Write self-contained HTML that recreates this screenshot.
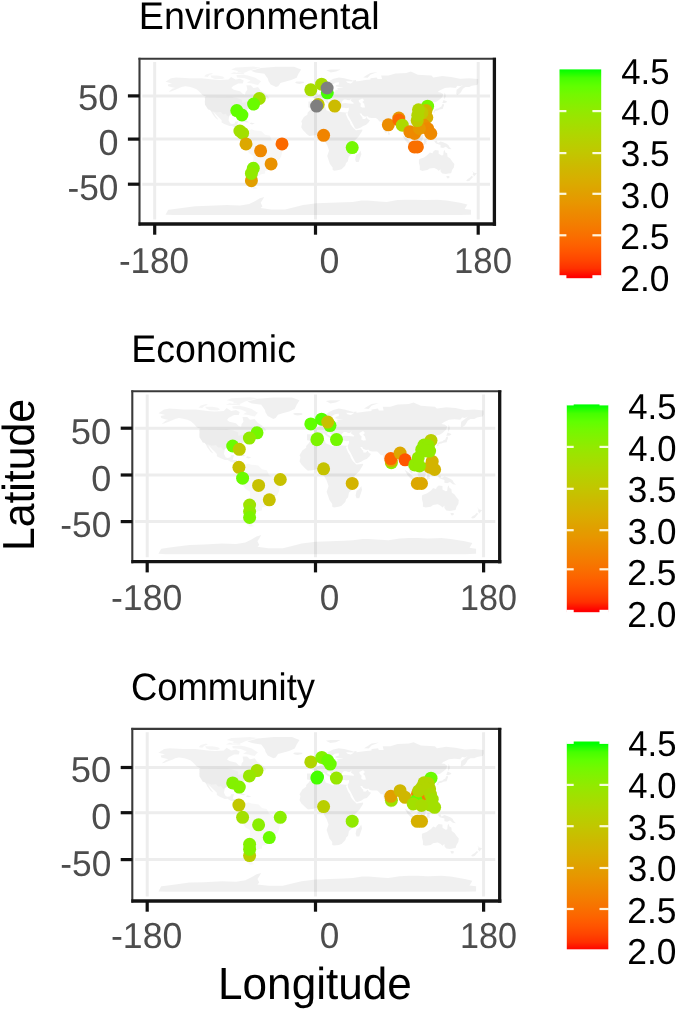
<!DOCTYPE html>
<html><head><meta charset="utf-8"><title>Latitude / Longitude maps</title>
<style>html,body{margin:0;padding:0;background:#fff}body{width:685px;height:1011px;overflow:hidden}</style>
</head><body>
<svg width="685" height="1011" viewBox="0 0 685 1011" style="display:block;text-rendering:geometricPrecision">
<rect x="0" y="0" width="685" height="1011" fill="#ffffff"/>
<defs><linearGradient id="cb" x1="0" y1="0" x2="0" y2="1"><stop offset="0.000" stop-color="#00ff00"/><stop offset="0.040" stop-color="#45ff00"/><stop offset="0.080" stop-color="#60ff00"/><stop offset="0.120" stop-color="#74f800"/><stop offset="0.160" stop-color="#83f100"/><stop offset="0.200" stop-color="#91ea00"/><stop offset="0.240" stop-color="#9de300"/><stop offset="0.280" stop-color="#a7dc00"/><stop offset="0.320" stop-color="#b1d500"/><stop offset="0.360" stop-color="#b9ce00"/><stop offset="0.400" stop-color="#c1c700"/><stop offset="0.440" stop-color="#c8bf00"/><stop offset="0.480" stop-color="#cfb700"/><stop offset="0.520" stop-color="#d6b000"/><stop offset="0.560" stop-color="#dca800"/><stop offset="0.600" stop-color="#e19f00"/><stop offset="0.640" stop-color="#e79700"/><stop offset="0.680" stop-color="#ec8d00"/><stop offset="0.720" stop-color="#f08400"/><stop offset="0.760" stop-color="#f57a00"/><stop offset="0.800" stop-color="#f96f00"/><stop offset="0.840" stop-color="#fd6300"/><stop offset="0.880" stop-color="#ff5500"/><stop offset="0.920" stop-color="#ff4500"/><stop offset="0.960" stop-color="#ff3000"/><stop offset="1.000" stop-color="#ff0000"/></linearGradient></defs>
<g id="panel1">
<clipPath id="clip0"><rect x="139.5" y="58.8" width="354.9" height="165.2"/></clipPath>
<g clip-path="url(#clip0)">
<line x1="154.7" y1="62.1" x2="154.7" y2="219.6" stroke="#ededed" stroke-width="3.0"/>
<line x1="315.5" y1="62.1" x2="315.5" y2="219.6" stroke="#ededed" stroke-width="3.0"/>
<line x1="478.2" y1="62.1" x2="478.2" y2="219.6" stroke="#ededed" stroke-width="3.0"/>
<line x1="142.3" y1="95.9" x2="490.0" y2="95.9" stroke="#ededed" stroke-width="3.0"/>
<line x1="142.3" y1="139.1" x2="490.0" y2="139.1" stroke="#ededed" stroke-width="3.0"/>
<line x1="142.3" y1="184.2" x2="490.0" y2="184.2" stroke="#ededed" stroke-width="3.0"/>
<path d="M165.5 81.8L170.9 78.2L176.3 77.4L189.7 78.2L201.4 78.2L213.1 79.6L219.4 80.0L228.4 79.6L231.1 76.9L235.6 79.6L240.1 78.7L243.7 80.4L242.8 83.5L238.3 83.5L232.9 86.2L231.5 88.1L233.8 89.7L240.1 91.2L242.8 93.7L245.0 94.6L245.5 91.9L247.3 89.7L246.4 85.3L250.9 85.3L253.5 88.0L258.0 87.1L260.7 90.6L266.1 94.1L262.5 95.9L257.1 95.9L258.0 97.7L261.6 99.4L258.5 100.8L257.1 100.8L253.5 101.6L253.5 103.4L250.0 104.3L248.2 106.9L248.2 109.1L246.4 110.0L243.7 112.7L244.6 116.2L244.3 117.8L242.8 116.7L241.9 114.0L239.2 113.3L235.6 114.3L232.0 114.0L229.3 115.8L228.6 120.2L230.2 123.3L232.0 124.0L234.7 123.4L235.3 121.5L238.3 121.2L237.4 124.2L236.9 125.9L241.0 126.1L241.7 128.6L241.3 130.5L243.2 132.1L245.0 131.7L246.9 132.5L246.4 133.6L244.6 133.6L241.9 132.8L239.6 131.2L237.8 128.6L234.7 127.7L232.0 125.9L229.3 126.1L224.8 124.2L221.6 122.4L221.6 120.2L219.4 118.0L217.6 116.2L215.4 114.0L213.4 112.1L215.4 115.8L217.6 118.6L218.0 119.7L215.8 118.3L213.7 115.8L212.2 113.6L211.1 111.4L210.0 110.0L208.1 109.5L206.8 107.4L205.0 104.7L204.8 102.1L205.0 99.0L204.6 97.4L205.9 96.8L202.3 95.0L199.6 91.9L196.5 89.3L193.3 88.0L190.2 87.1L185.3 86.2L181.7 87.1L179.4 88.1L175.4 89.7L170.9 91.5L168.6 91.8L172.7 88.6L175.1 88.0L170.9 87.1L168.2 86.2L167.7 84.4L171.8 83.5L169.1 82.7L165.5 81.8Z" fill="#000000" fill-opacity="0.05" fill-rule="evenodd"/>
<path d="M261.2 81.3L258.0 84.9L255.3 84.4L251.8 83.5L246.8 82.7L250.4 80.4L244.6 78.2L236.9 77.4L236.5 75.1L243.7 74.7L248.2 75.6L255.3 77.8L261.2 81.3ZM222.1 79.1L214.9 78.9L211.3 77.4L210.4 75.6L217.6 75.6L223.0 76.5L224.8 78.2L222.1 79.1ZM204.1 76.5L205.9 74.4L211.3 72.9L213.1 73.8L209.5 75.1L207.7 76.9L204.1 76.5ZM235.6 72.9L244.6 72.8L249.1 70.7L260.7 67.6L253.5 66.6L235.6 67.6L231.1 69.4L238.3 71.2L235.6 72.9ZM230.2 73.8L244.6 74.2L243.7 72.9L233.8 72.2L230.2 73.8ZM263.4 97.9L266.1 94.6L268.8 97.2L268.8 98.8L266.1 98.6L263.4 97.9Z" fill="#000000" fill-opacity="0.04" fill-rule="evenodd"/>
<path d="M240.1 120.6L244.6 119.7L249.5 122.2L246.8 122.5L241.0 120.9L240.1 120.6ZM249.6 123.7L250.9 122.5L254.9 123.6L252.2 124.4L249.6 123.7ZM276.0 87.1L270.6 84.4L268.4 80.9L267.9 78.7L264.3 73.8L255.3 72.5L250.9 70.7L260.7 68.1L276.0 66.8L294.0 66.8L301.2 69.4L298.5 73.8L296.7 77.8L291.3 80.0L285.0 81.8L280.5 83.1L278.3 86.2L276.0 87.1ZM294.9 82.2L296.7 83.5L299.4 84.0L303.9 83.1L303.9 81.8L300.3 81.5L296.7 81.5L294.9 82.2ZM311.1 108.4L315.6 108.9L320.0 107.4L325.4 107.1L326.3 110.2L329.9 111.5L333.5 113.1L334.4 111.4L338.9 111.8L343.4 112.2L345.7 112.5L347.5 112.5L345.7 113.7L347.9 118.9L349.7 121.5L350.6 124.2L352.4 126.8L355.1 129.5L356.0 130.3L362.3 129.5L362.3 130.8L358.7 136.5L354.2 140.9L352.4 143.6L351.5 146.2L352.4 149.8L352.8 153.3L348.8 156.8L347.9 161.2L346.1 163.0L345.2 165.7L341.6 169.2L338.9 170.1L334.4 170.8L332.6 170.1L332.6 167.4L329.9 163.9L327.2 155.9L329.0 150.6L327.2 145.3L324.5 140.9L325.0 137.4L323.6 136.1L320.9 134.8L317.3 134.8L313.8 135.6L309.3 136.1L306.6 133.9L304.8 132.1L303.0 130.3L301.2 127.2L302.1 123.3L301.2 121.5L303.9 117.1L307.5 114.4L307.5 112.7L310.2 110.0L311.1 108.4ZM360.5 150.6L361.4 154.2L358.7 162.1L356.0 162.1L355.1 159.5L356.0 155.1L358.7 153.3L360.5 150.6ZM308.4 107.4L311.1 107.8L314.7 107.4L316.4 105.6L316.4 104.3L319.1 103.0L320.0 101.6L322.7 101.6L324.5 100.8L326.3 102.5L328.1 103.8L330.8 105.6L330.8 106.5L331.7 104.7L333.1 104.7L330.8 103.4L328.1 101.6L327.7 100.3L328.6 99.7L329.9 100.3L331.7 102.1L334.0 103.4L335.3 105.6L336.2 107.4L337.1 106.5L338.0 104.3L339.8 104.3L340.7 107.4L341.6 107.8L344.3 107.8L346.1 108.3L348.8 107.8L348.8 110.0L347.9 111.8L347.5 112.5L347.7 114.0L347.9 115.3L350.1 118.9L351.5 121.5L353.3 125.0L355.1 128.6L356.9 129.0L360.5 127.7L363.2 125.9L365.9 125.0L368.6 122.4L369.9 120.2L367.7 118.9L366.8 117.1L365.0 118.9L362.7 118.9L362.3 117.1L361.4 116.2L359.6 113.6L361.4 113.6L362.3 115.3L365.0 116.7L367.7 116.2L368.6 117.5L371.3 118.0L375.8 118.0L377.6 119.3L379.4 121.5L381.6 121.5L382.0 125.0L383.4 128.6L384.7 132.1L386.1 133.0L387.4 131.2L388.3 128.6L388.3 126.4L390.1 125.0L392.8 122.4L394.6 121.1L396.4 120.6L398.2 120.2L399.1 122.4L400.9 125.9L401.8 125.9L403.6 125.0L404.5 128.6L405.0 132.1L406.3 134.3L407.2 137.4L409.5 138.7L409.9 137.8L409.0 135.2L407.2 134.3L406.3 132.1L406.3 128.6L408.1 129.5L410.8 132.1L412.6 130.8L414.4 129.5L414.4 126.8L412.6 125.0L411.7 123.3L413.5 121.1L415.3 121.5L415.3 122.1L418.9 120.2L421.6 119.3L423.4 117.5L425.2 115.3L426.1 113.1L425.2 111.8L423.4 109.1L425.2 107.8L426.5 107.4L423.4 106.9L422.5 105.6L425.6 104.3L426.1 105.6L428.8 104.7L428.8 106.9L430.1 109.6L432.4 108.7L432.4 107.4L431.0 105.2L433.3 102.5L436.0 102.1L438.7 100.3L442.3 97.2L443.2 94.1L440.5 92.4L437.8 91.9L439.6 90.6L445.0 88.0L450.3 87.5L455.7 88.0L457.5 85.7L460.2 86.2L462.9 84.9L460.2 87.1L456.6 89.7L456.2 94.1L457.3 95.0L460.2 93.3L462.0 90.6L462.9 88.8L465.6 87.1L469.2 87.1L471.9 85.7L477.3 84.9L478.2 82.7L478.2 79.1L469.2 78.2L460.2 78.7L451.2 76.9L442.3 76.0L433.3 77.4L431.5 75.6L418.0 74.7L410.8 71.6L406.3 72.9L395.5 73.4L388.3 75.6L381.1 75.6L382.0 79.1L377.6 79.1L376.7 77.4L370.4 78.2L370.4 79.6L365.0 80.0L359.6 80.9L356.0 81.3L356.0 80.0L352.4 80.4L353.3 81.8L350.6 83.5L347.5 82.7L346.1 81.3L352.4 81.6L353.3 80.6L346.1 78.7L344.3 78.2L338.9 77.4L333.5 78.7L329.0 80.9L326.3 83.5L320.9 85.3L320.9 88.0L323.6 88.8L326.3 88.0L327.7 90.6L329.0 91.0L330.8 90.2L333.1 87.1L331.7 86.2L332.6 84.4L335.3 82.7L338.9 82.2L338.9 84.4L335.8 85.3L335.8 86.6L338.9 87.1L343.4 87.1L341.6 87.5L337.1 88.0L338.0 89.7L335.3 89.7L335.3 91.5L333.5 91.9L329.0 92.4L326.3 92.4L325.0 91.5L325.9 89.3L323.6 89.7L323.6 91.5L324.1 92.4L321.8 92.8L320.0 94.1L318.2 95.0L315.1 96.3L315.1 97.0L312.4 97.2L314.7 98.5L315.6 99.4L315.1 101.6L312.9 101.6L308.4 101.6L308.4 107.4ZM312.0 95.9L317.8 94.8L317.8 93.4L316.4 92.8L314.7 90.6L314.7 89.1L312.9 88.4L311.1 88.8L312.0 90.6L313.8 92.4L312.4 93.0L312.9 94.1L312.0 94.4L312.0 95.9ZM311.1 94.1L311.1 91.9L309.3 91.2L307.5 92.4L307.5 94.1L311.1 94.1ZM326.3 70.3L330.8 69.4L340.7 69.4L336.2 71.6L330.8 72.4L326.3 70.3ZM363.2 77.4L366.8 75.1L370.4 72.9L377.6 72.1L370.4 74.7L367.7 77.8L363.2 77.4ZM433.3 112.7L434.2 110.0L436.0 108.7L438.7 108.3L439.6 107.4L441.4 106.5L442.3 104.3L443.6 103.8L444.1 105.2L443.2 107.4L442.7 109.1L439.6 109.6L437.8 110.5L435.1 110.9L434.6 112.7L433.3 112.7ZM442.3 103.0L443.6 99.9L446.7 101.2L447.2 102.1L445.0 103.0L442.3 103.0ZM444.1 99.4L444.1 95.9L444.5 92.4L445.4 94.1L445.7 96.8L444.1 99.4ZM424.3 120.2L425.6 118.0L426.1 118.9L425.2 120.6L424.3 120.2ZM424.3 127.7L424.7 123.7L426.5 124.2L426.1 125.9L427.9 128.6L426.1 128.1L424.3 127.7ZM426.1 133.9L428.8 131.7L430.1 133.9L429.2 134.8L426.1 133.9ZM414.4 138.7L416.6 137.8L418.0 137.4L419.8 135.6L421.6 133.9L423.4 135.6L422.5 139.2L421.1 143.6L418.9 143.1L416.2 142.7L415.3 140.9L414.4 138.7ZM402.3 135.2L404.5 136.5L406.8 138.3L409.5 140.9L411.7 142.7L411.7 145.3L409.9 144.9L407.2 142.7L405.0 140.1L402.3 135.2ZM411.3 145.8L413.9 145.8L416.2 145.8L419.3 146.7L419.3 147.7L413.5 146.9L411.3 145.8ZM423.8 144.9L423.4 142.7L424.3 139.6L427.9 139.0L428.8 138.7L427.0 139.8L425.2 140.9L427.0 140.9L426.1 142.7L427.0 144.5L425.2 143.6L424.7 144.9L423.8 144.9ZM434.2 140.9L436.9 140.8L437.8 143.0L440.5 141.6L443.2 142.3L446.7 143.8L448.5 145.3L449.4 147.1L451.7 149.3L448.5 148.9L445.9 146.8L443.2 148.0L440.5 147.4L440.5 144.9L436.0 143.6L435.1 142.5L434.2 140.9ZM388.3 131.4L390.1 133.9L389.2 134.8L388.3 134.8L388.1 133.0L388.3 131.4ZM418.9 159.5L418.9 163.0L419.8 166.5L419.8 170.1L422.5 171.0L427.4 170.1L429.7 168.6L434.2 167.9L436.9 169.2L438.7 171.0L440.5 169.2L440.5 171.4L442.3 173.6L445.9 174.0L448.5 173.6L451.2 173.2L452.1 170.1L453.9 167.4L454.4 163.9L452.1 161.2L450.3 158.6L447.6 156.8L447.2 153.3L445.4 152.4L444.5 149.8L443.6 151.5L443.2 155.1L441.8 155.5L438.7 153.7L438.7 150.6L435.1 150.0L433.3 151.5L432.4 153.3L429.7 152.4L427.9 154.6L426.1 155.9L423.4 157.7L420.7 158.6L418.9 159.5ZM446.3 176.1L449.4 176.1L449.4 178.0L447.6 178.5L446.7 177.6L446.3 176.1ZM471.6 170.5L474.2 172.7L476.9 173.3L475.5 174.9L473.7 176.7L473.5 174.9L472.6 174.8L473.3 172.7L471.6 170.5ZM471.6 175.8L473.1 176.9L471.6 178.5L469.7 180.7L467.9 181.3L466.1 180.7L467.4 179.2L469.7 177.8L471.6 175.8ZM165.5 214.7L168.2 209.8L174.5 208.9L181.7 208.0L195.1 206.3L208.6 205.8L226.6 205.0L240.1 205.4L249.1 204.1L255.3 201.0L259.8 198.3L264.3 197.0L262.5 200.1L260.7 202.7L262.5 206.3L260.7 208.0L271.5 209.4L285.0 209.4L294.0 207.2L303.0 205.0L316.4 203.2L329.9 202.7L343.4 202.3L352.4 201.9L361.4 200.5L367.7 200.5L379.4 201.4L386.5 201.9L397.3 200.1L406.3 199.7L415.3 199.7L424.3 200.1L437.8 199.7L446.7 200.5L460.2 202.7L467.4 204.5L464.7 208.9L471.0 209.8L471.0 214.7L460.2 215.1L172.7 215.1ZM341.6 103.4L342.1 101.2L343.9 99.4L346.1 99.4L347.9 100.3L349.7 100.3L351.5 98.5L350.6 100.8L353.7 103.0L353.3 103.8L348.8 103.4L345.2 103.0L341.6 103.4ZM358.7 100.3L362.3 98.5L364.1 100.3L362.3 102.1L364.1 103.8L365.0 107.4L362.3 107.6L360.5 106.5L360.9 103.8L359.1 102.1L358.7 100.3Z" fill="#000000" fill-opacity="0.058" fill-rule="evenodd"/>
<path d="M246.9 132.5L249.1 130.3L251.8 129.3L253.5 129.9L255.3 130.5L258.9 130.8L261.6 131.2L265.2 134.8L269.7 135.6L271.5 139.2L271.5 140.1L276.9 142.3L281.4 143.1L285.0 144.9L285.0 148.0L282.3 151.5L281.4 155.9L279.6 159.5L276.0 161.2L273.3 163.0L272.4 165.7L268.8 170.1L265.2 171.0L265.2 173.6L260.7 174.5L258.0 176.3L258.0 179.8L256.2 180.7L257.1 182.4L254.4 185.1L255.3 186.8L257.6 188.6L253.5 189.1L250.0 186.0L249.1 182.4L250.0 178.0L250.9 173.6L252.6 168.3L253.5 162.1L253.5 155.9L249.1 153.3L247.3 150.6L244.6 146.2L243.7 144.5L244.6 141.8L244.6 139.2L246.4 137.4L247.3 134.8L246.4 133.6L246.9 132.5Z" fill="#000000" fill-opacity="0.03" fill-rule="evenodd"/>
<path d="M204.6 97.2L231.1 96.8L236.5 97.7L240.5 99.0L242.3 100.1L242.3 103.0L245.5 102.1L247.7 101.2L249.1 100.3L252.2 100.3L253.5 98.5L255.5 98.5L256.2 100.3L253.5 101.6L253.5 103.4L250.0 104.3L248.2 106.9L248.2 109.1L246.4 110.0L243.7 112.7L244.6 116.2L244.3 117.8L242.8 116.7L241.9 114.0L239.2 113.3L235.6 114.3L232.0 114.0L229.3 115.8L229.1 117.1L227.0 115.8L225.7 113.7L223.9 114.4L222.5 113.9L220.7 112.0L216.7 112.4L213.4 111.4L211.1 111.4L210.0 110.0L208.1 109.5L206.8 107.4L205.0 104.7L204.8 102.1L205.0 99.0L204.6 97.2Z" fill="#000000" fill-opacity="0.025"/>
<circle cx="259.3" cy="98.5" r="6.5" fill="#a2e000"/>
<circle cx="253.6" cy="104.1" r="6.5" fill="#6afb00"/>
<circle cx="236.8" cy="110.6" r="6.5" fill="#60ff00"/>
<circle cx="241.9" cy="115.0" r="6.5" fill="#60ff00"/>
<circle cx="239.9" cy="131.0" r="6.5" fill="#a2e000"/>
<circle cx="242.6" cy="133.2" r="6.5" fill="#a2e000"/>
<circle cx="246.0" cy="143.9" r="6.5" fill="#dca800"/>
<circle cx="260.6" cy="150.8" r="6.5" fill="#ee8900"/>
<circle cx="282.0" cy="143.9" r="6.5" fill="#fb6900"/>
<circle cx="271.1" cy="163.9" r="6.5" fill="#e99200"/>
<circle cx="251.4" cy="180.7" r="6.5" fill="#e19f00"/>
<circle cx="253.3" cy="168.3" r="6.5" fill="#83f100"/>
<circle cx="251.4" cy="173.4" r="6.5" fill="#91ea00"/>
<circle cx="310.8" cy="89.8" r="6.5" fill="#a7dc00"/>
<circle cx="321.6" cy="84.2" r="6.5" fill="#a7dc00"/>
<circle cx="327.3" cy="92.8" r="6.5" fill="#45ff00"/>
<circle cx="318.2" cy="104.5" r="6.5" fill="#c1c700"/>
<circle cx="334.7" cy="106.1" r="6.5" fill="#ccbb00"/>
<circle cx="323.6" cy="135.3" r="6.5" fill="#f08400"/>
<circle cx="352.2" cy="147.6" r="6.5" fill="#74f800"/>
<circle cx="327.1" cy="88.0" r="6.5" fill="#7f7f7f"/>
<circle cx="316.6" cy="106.1" r="6.5" fill="#7f7f7f"/>
<circle cx="427.6" cy="106.2" r="6.5" fill="#74f800"/>
<circle cx="388.3" cy="124.8" r="6.5" fill="#ec8d00"/>
<circle cx="398.8" cy="118.0" r="6.5" fill="#e79700"/>
<circle cx="398.8" cy="119.9" r="6.5" fill="#fb6900"/>
<circle cx="402.3" cy="125.2" r="6.5" fill="#acd900"/>
<circle cx="426.0" cy="110.6" r="6.5" fill="#cfb700"/>
<circle cx="426.8" cy="117.5" r="6.5" fill="#d6b000"/>
<circle cx="409.8" cy="131.8" r="6.5" fill="#ee8900"/>
<circle cx="414.6" cy="133.5" r="6.5" fill="#ee8900"/>
<circle cx="423.8" cy="125.0" r="6.5" fill="#e99200"/>
<circle cx="427.7" cy="128.7" r="6.5" fill="#ee8900"/>
<circle cx="430.8" cy="133.5" r="6.5" fill="#ee8900"/>
<circle cx="419.4" cy="128.5" r="6.5" fill="#e79700"/>
<circle cx="422.0" cy="112.8" r="6.5" fill="#c1c700"/>
<circle cx="417.2" cy="120.6" r="6.5" fill="#bdca00"/>
<circle cx="417.8" cy="115.3" r="6.5" fill="#b1d500"/>
<circle cx="418.5" cy="109.8" r="6.5" fill="#b1d500"/>
<circle cx="414.4" cy="146.9" r="6.5" fill="#f96f00"/>
<circle cx="417.4" cy="146.9" r="6.5" fill="#f96f00"/>
</g>
<line x1="139.5" y1="57.8" x2="139.5" y2="225.6" stroke="#3a3a3a" stroke-width="2.1"/>
<line x1="138.5" y1="58.8" x2="496.0" y2="58.8" stroke="#3a3a3a" stroke-width="2.1"/>
<line x1="494.4" y1="57.8" x2="494.4" y2="225.65" stroke="#141414" stroke-width="3.3"/>
<line x1="138.5" y1="224.0" x2="496.04999999999995" y2="224.0" stroke="#141414" stroke-width="3.3"/>
<line x1="154.7" y1="224.0" x2="154.7" y2="234.7" stroke="#111111" stroke-width="3.2"/>
<line x1="315.5" y1="224.0" x2="315.5" y2="234.7" stroke="#111111" stroke-width="3.2"/>
<line x1="478.2" y1="224.0" x2="478.2" y2="234.7" stroke="#111111" stroke-width="3.2"/>
<line x1="127.9" y1="95.9" x2="139.5" y2="95.9" stroke="#111111" stroke-width="3.2"/>
<line x1="127.9" y1="139.1" x2="139.5" y2="139.1" stroke="#111111" stroke-width="3.2"/>
<line x1="127.9" y1="184.2" x2="139.5" y2="184.2" stroke="#111111" stroke-width="3.2"/>
</g>
<g id="panel2">
<clipPath id="clip1"><rect x="132.3" y="391.3" width="367.4" height="170.4"/></clipPath>
<g clip-path="url(#clip1)">
<line x1="147.2" y1="394.6" x2="147.2" y2="557.3" stroke="#ededed" stroke-width="3.0"/>
<line x1="315.5" y1="394.6" x2="315.5" y2="557.3" stroke="#ededed" stroke-width="3.0"/>
<line x1="483.6" y1="394.6" x2="483.6" y2="557.3" stroke="#ededed" stroke-width="3.0"/>
<line x1="135.1" y1="428.2" x2="495.3" y2="428.2" stroke="#ededed" stroke-width="3.0"/>
<line x1="135.1" y1="475.0" x2="495.3" y2="475.0" stroke="#ededed" stroke-width="3.0"/>
<line x1="135.1" y1="521.6" x2="495.3" y2="521.6" stroke="#ededed" stroke-width="3.0"/>
<path d="M158.4 413.3L164.0 409.5L169.6 408.6L183.6 409.5L195.8 409.5L207.9 410.9L214.5 411.4L223.8 410.9L226.6 408.1L231.3 410.9L236.0 410.0L239.7 411.9L238.8 415.1L234.1 415.1L228.5 417.9L227.1 420.0L229.4 421.7L236.0 423.2L238.8 425.9L241.1 426.8L241.6 424.0L243.4 421.7L242.5 417.0L247.2 417.0L250.0 419.8L254.7 418.9L257.5 422.6L263.1 426.3L259.3 428.2L253.7 428.2L254.7 430.1L258.4 431.9L255.1 433.3L253.7 433.3L250.0 434.3L250.0 436.1L246.3 437.1L244.4 439.9L244.4 442.2L242.5 443.1L239.7 445.9L240.6 449.7L240.4 451.4L238.8 450.1L237.8 447.3L235.0 446.6L231.3 447.6L227.6 447.3L224.8 449.2L224.0 453.9L225.7 457.2L227.6 457.9L230.4 457.3L231.0 455.3L234.1 455.0L233.2 458.1L232.7 460.0L236.9 460.1L237.7 462.8L237.3 464.8L239.2 466.5L241.1 466.0L243.1 466.9L242.5 468.1L240.6 468.1L237.8 467.2L235.5 465.6L233.6 462.8L230.4 461.8L227.6 460.0L224.8 460.1L220.1 458.1L216.8 456.2L216.8 453.9L214.5 451.5L212.6 449.7L210.3 447.3L208.2 445.3L210.3 449.2L212.6 452.2L213.0 453.4L210.7 451.9L208.6 449.2L207.0 446.9L205.9 444.5L204.7 443.1L202.7 442.6L201.4 440.3L199.5 437.5L199.3 434.7L199.5 431.5L199.1 429.8L200.5 429.1L196.7 427.3L193.9 424.0L190.7 421.2L187.4 419.8L184.1 418.9L179.0 417.9L175.2 418.9L172.9 420.0L168.7 421.7L164.0 423.5L161.7 423.9L165.9 420.4L168.4 419.9L164.0 418.9L161.2 417.9L160.7 416.1L165.0 415.1L162.2 414.2L158.4 413.3Z" fill="#000000" fill-opacity="0.05" fill-rule="evenodd"/>
<path d="M257.9 412.8L254.7 416.5L251.9 416.1L248.1 415.1L243.0 414.2L246.7 411.9L240.6 409.5L232.7 408.6L232.2 406.3L239.7 405.8L244.4 406.7L251.9 409.1L257.9 412.8ZM217.3 410.5L209.8 410.2L206.1 408.6L205.1 406.7L212.6 406.7L218.2 407.7L220.1 409.5L217.3 410.5ZM198.6 407.7L200.5 405.5L206.1 403.9L207.9 404.8L204.2 406.3L202.3 408.1L198.6 407.7ZM231.3 403.9L240.6 403.7L245.3 401.6L257.5 398.3L250.0 397.2L231.3 398.3L226.6 400.2L234.1 402.0L231.3 403.9ZM225.7 404.8L240.6 405.2L239.7 403.9L229.4 403.2L225.7 404.8ZM260.3 430.3L263.1 426.8L265.9 429.6L265.9 431.3L263.1 431.1L260.3 430.3Z" fill="#000000" fill-opacity="0.04" fill-rule="evenodd"/>
<path d="M236.0 454.4L240.6 453.4L245.8 456.0L243.0 456.3L236.9 454.6L236.0 454.4ZM245.9 457.6L247.2 456.3L251.4 457.5L248.6 458.4L245.9 457.6ZM273.3 418.9L267.7 416.1L265.4 412.3L264.9 410.0L261.2 404.8L251.9 403.4L247.2 401.6L257.5 398.8L273.3 397.4L292.0 397.4L299.5 400.2L296.7 404.8L294.8 409.1L289.2 411.4L282.7 413.3L278.0 414.7L275.7 417.9L273.3 418.9ZM293.0 413.7L294.8 415.1L297.6 415.6L302.3 414.7L302.3 413.3L298.6 413.0L294.8 413.0L293.0 413.7ZM309.8 441.5L314.5 441.9L319.1 440.3L324.7 440.1L325.7 443.3L329.4 444.7L333.2 446.4L334.1 444.5L338.8 445.0L343.4 445.5L345.8 445.8L347.6 445.8L345.9 447.1L348.1 452.5L350.0 455.3L350.9 458.1L352.8 460.9L355.6 463.7L356.5 464.6L363.1 463.7L363.1 465.1L359.3 471.2L354.6 475.8L352.8 478.6L351.8 481.4L352.8 485.2L353.2 488.9L349.0 492.6L348.1 497.3L346.2 499.2L345.3 502.0L341.6 505.7L338.8 506.7L334.1 507.4L332.2 506.7L332.2 503.9L329.4 500.1L326.6 491.7L328.5 486.1L326.6 480.5L323.8 475.8L324.3 472.1L322.9 470.7L320.1 469.3L316.3 469.3L312.6 470.2L307.9 470.7L305.1 468.4L303.3 466.5L301.4 464.6L299.5 461.4L300.4 457.2L299.5 455.3L302.3 450.6L306.1 447.8L306.1 445.9L308.9 443.1L309.8 441.5ZM361.2 486.1L362.1 489.8L359.3 498.2L356.5 498.2L355.6 495.4L356.5 490.8L359.3 488.9L361.2 486.1ZM307.0 440.3L309.8 440.8L313.5 440.3L315.4 438.5L315.4 437.1L318.2 435.7L319.1 434.3L321.9 434.3L323.8 433.3L325.7 435.2L327.5 436.6L330.4 438.5L330.4 439.4L331.3 437.5L332.7 437.5L330.4 436.1L327.5 434.3L327.1 432.9L328.0 432.2L329.4 432.9L331.3 434.7L333.6 436.1L335.0 438.5L336.0 440.3L336.9 439.4L337.8 437.1L339.7 437.1L340.6 440.3L341.6 440.8L344.4 440.8L346.2 441.3L349.0 440.8L349.0 443.1L348.1 445.0L347.6 445.8L347.9 447.3L348.1 448.7L350.4 452.5L351.8 455.3L353.7 459.0L355.6 462.8L357.4 463.2L361.2 461.8L364.0 460.0L366.8 459.0L369.6 456.2L371.0 453.9L368.7 452.5L367.7 450.6L365.9 452.5L363.5 452.5L363.1 450.6L362.1 449.7L360.3 446.9L362.1 446.9L363.1 448.7L365.9 450.1L368.7 449.7L369.6 451.1L372.4 451.5L377.1 451.5L378.9 453.0L380.8 455.3L383.1 455.3L383.6 459.0L385.0 462.8L386.4 466.5L387.8 467.4L389.2 465.6L390.2 462.8L390.2 460.4L392.0 459.0L394.8 456.2L396.7 454.8L398.6 454.4L400.4 453.9L401.4 456.2L403.2 460.0L404.2 460.0L406.0 459.0L407.0 462.8L407.4 466.5L408.8 468.8L409.8 472.1L412.1 473.5L412.6 472.6L411.6 469.8L409.8 468.8L408.8 466.5L408.8 462.8L410.7 463.7L413.5 466.5L415.4 465.1L417.3 463.7L417.3 460.9L415.4 459.0L414.5 457.2L416.3 454.8L418.2 455.3L418.2 455.9L421.9 453.9L424.7 453.0L426.6 451.1L428.5 448.7L429.4 446.4L428.5 445.0L426.6 442.2L428.5 440.8L429.9 440.3L426.6 439.9L425.7 438.5L428.9 437.1L429.4 438.5L432.2 437.5L432.2 439.9L433.6 442.7L435.9 441.7L435.9 440.3L434.5 438.0L436.9 435.2L439.7 434.7L442.5 432.9L446.2 429.6L447.2 426.3L444.4 424.5L441.5 424.0L443.4 422.6L449.0 419.8L454.6 419.3L460.2 419.8L462.1 417.5L464.9 417.9L467.7 416.5L464.9 418.9L461.2 421.7L460.7 426.3L461.8 427.3L464.9 425.4L466.8 422.6L467.7 420.7L470.5 418.9L474.3 418.9L477.1 417.5L482.7 416.5L483.6 414.2L483.6 410.5L474.3 409.5L464.9 410.0L455.6 408.1L446.2 407.2L436.9 408.6L435.0 406.7L421.0 405.8L413.5 402.5L408.8 403.9L397.6 404.4L390.2 406.7L382.7 406.7L383.6 410.5L378.9 410.5L378.0 408.6L371.5 409.5L371.5 410.9L365.9 411.4L360.3 412.3L356.5 412.8L356.5 411.4L352.8 411.9L353.7 413.3L350.9 415.1L347.6 414.2L346.2 412.8L352.8 413.1L353.7 412.0L346.2 410.0L344.4 409.5L338.8 408.6L333.2 410.0L328.5 412.3L325.7 415.1L320.1 417.0L320.1 419.8L322.9 420.7L325.7 419.8L327.1 422.6L328.5 423.1L330.4 422.1L332.7 418.9L331.3 417.9L332.2 416.1L335.0 414.2L338.8 413.7L338.8 416.1L335.5 417.0L335.5 418.4L338.8 418.9L343.4 418.9L341.6 419.3L336.9 419.8L337.8 421.7L335.0 421.7L335.0 423.5L333.2 424.0L328.5 424.5L325.7 424.5L324.3 423.5L325.2 421.2L322.9 421.7L322.9 423.5L323.3 424.5L321.0 424.9L319.1 426.3L317.3 427.3L314.0 428.7L314.0 429.4L311.2 429.6L313.5 431.0L314.5 431.9L314.0 434.3L311.7 434.3L307.0 434.3L307.0 440.3ZM310.7 428.2L316.8 427.1L316.8 425.6L315.4 424.9L313.5 422.6L313.5 421.0L311.7 420.3L309.8 420.7L310.7 422.6L312.6 424.5L311.2 425.1L311.7 426.3L310.7 426.6L310.7 428.2ZM309.8 426.3L309.8 424.0L307.9 423.2L306.1 424.5L306.1 426.3L309.8 426.3ZM325.7 401.1L330.4 400.2L340.6 400.2L336.0 402.5L330.4 403.4L325.7 401.1ZM364.0 408.6L367.7 406.3L371.5 403.9L378.9 403.0L371.5 405.8L368.7 409.1L364.0 408.6ZM436.9 445.9L437.8 443.1L439.7 441.7L442.5 441.3L443.4 440.3L445.3 439.4L446.2 437.1L447.6 436.6L448.1 438.0L447.2 440.3L446.7 442.2L443.4 442.7L441.5 443.6L438.7 444.1L438.3 445.9L436.9 445.9ZM446.2 435.7L447.6 432.4L450.9 433.8L451.4 434.7L449.0 435.7L446.2 435.7ZM448.1 431.9L448.1 428.2L448.6 424.5L449.5 426.3L449.8 429.1L448.1 431.9ZM427.5 453.9L428.9 451.5L429.4 452.5L428.5 454.4L427.5 453.9ZM427.5 461.8L428.0 457.6L429.9 458.1L429.4 460.0L431.3 462.8L429.4 462.3L427.5 461.8ZM429.4 468.4L432.2 466.0L433.6 468.4L432.7 469.3L429.4 468.4ZM417.3 473.5L419.6 472.6L421.0 472.1L422.9 470.2L424.7 468.4L426.6 470.2L425.7 474.0L424.3 478.6L421.9 478.2L419.1 477.7L418.2 475.8L417.3 473.5ZM404.6 469.8L407.0 471.2L409.3 473.0L412.1 475.8L414.5 477.7L414.5 480.5L412.6 480.0L409.8 477.7L407.4 474.9L404.6 469.8ZM414.0 481.0L416.8 481.0L419.1 481.0L422.4 481.9L422.4 483.0L416.3 482.2L414.0 481.0ZM427.1 480.0L426.6 477.7L427.5 474.4L431.3 473.8L432.2 473.5L430.3 474.6L428.5 475.8L430.3 475.8L429.4 477.7L430.3 479.6L428.5 478.6L428.0 480.0L427.1 480.0ZM437.8 475.8L440.6 475.6L441.5 478.0L444.4 476.5L447.2 477.3L450.9 478.9L452.8 480.5L453.7 482.4L456.0 484.7L452.8 484.2L450.0 482.1L447.2 483.3L444.4 482.7L444.4 480.0L439.7 478.6L438.7 477.5L437.8 475.8ZM390.2 465.7L392.0 468.4L391.1 469.3L390.2 469.3L389.9 467.4L390.2 465.7ZM421.9 495.4L421.9 499.2L422.9 502.9L422.9 506.7L425.7 507.6L430.8 506.7L433.1 505.1L437.8 504.3L440.6 505.7L442.5 507.6L444.4 505.7L444.4 508.1L446.2 510.4L450.0 510.9L452.8 510.4L455.6 509.9L456.5 506.7L458.4 503.9L458.8 500.1L456.5 497.3L454.6 494.5L451.8 492.6L451.4 488.9L449.5 488.0L448.6 485.2L447.6 487.0L447.2 490.8L445.8 491.2L442.5 489.4L442.5 486.1L438.7 485.5L436.9 487.0L435.9 488.9L433.1 488.0L431.3 490.3L429.4 491.7L426.6 493.6L423.8 494.5L421.9 495.4ZM450.4 513.0L453.7 513.0L453.7 515.1L451.8 515.6L450.9 514.6L450.4 513.0ZM476.8 507.1L479.4 509.5L482.2 510.1L480.8 511.8L478.9 513.7L478.7 511.8L477.8 511.6L478.6 509.5L476.8 507.1ZM476.8 512.7L478.3 513.8L476.8 515.5L474.7 517.9L472.9 518.5L471.0 517.9L472.4 516.3L474.7 514.9L476.8 512.7ZM158.4 553.8L161.2 548.7L167.8 547.8L175.2 546.8L189.2 545.0L203.3 544.5L222.0 543.5L236.0 544.0L245.3 542.6L251.9 539.3L256.5 536.5L261.2 535.1L259.3 538.4L257.5 541.2L259.3 545.0L257.5 546.8L268.7 548.2L282.7 548.2L292.0 545.9L301.4 543.5L315.4 541.7L329.4 541.2L343.4 540.7L352.8 540.3L362.1 538.9L368.7 538.9L380.8 539.8L388.3 540.3L399.5 538.4L408.8 537.9L418.2 537.9L427.5 538.4L441.5 537.9L450.9 538.9L464.9 541.2L472.4 543.1L469.6 547.8L476.1 548.7L476.1 553.8L464.9 554.3L165.9 554.3ZM341.6 436.1L342.0 433.8L343.9 431.9L346.2 431.9L348.1 432.9L350.0 432.9L351.8 431.0L350.9 433.3L354.2 435.7L353.7 436.6L349.0 436.1L345.3 435.7L341.6 436.1ZM359.3 432.9L363.1 431.0L364.9 432.9L363.1 434.7L364.9 436.6L365.9 440.3L363.1 440.6L361.2 439.4L361.7 436.6L359.8 434.7L359.3 432.9Z" fill="#000000" fill-opacity="0.058" fill-rule="evenodd"/>
<path d="M243.1 466.9L245.3 464.6L248.1 463.5L250.0 464.2L251.9 464.8L255.6 465.1L258.4 465.6L262.1 469.3L266.8 470.2L268.7 474.0L268.7 474.9L274.3 477.2L279.0 478.2L282.7 480.0L282.7 483.3L279.9 487.0L279.0 491.7L277.1 495.4L273.3 497.3L270.5 499.2L269.6 502.0L265.9 506.7L262.1 507.6L262.1 510.4L257.5 511.3L254.7 513.2L254.7 516.9L252.8 517.9L253.7 519.7L250.9 522.5L251.9 524.4L254.2 526.3L250.0 526.7L246.3 523.5L245.3 519.7L246.3 515.1L247.2 510.4L249.1 504.8L250.0 498.2L250.0 491.7L245.3 488.9L243.4 486.1L240.6 481.4L239.7 479.6L240.6 476.8L240.6 474.0L242.5 472.1L243.4 469.3L242.5 468.1L243.1 466.9Z" fill="#000000" fill-opacity="0.03" fill-rule="evenodd"/>
<path d="M199.1 429.6L226.6 429.1L232.2 430.1L236.4 431.5L238.3 432.6L238.3 435.7L241.6 434.7L243.9 433.8L245.3 432.9L248.6 432.9L250.0 431.0L252.0 431.0L252.8 432.9L250.0 434.3L250.0 436.1L246.3 437.1L244.4 439.9L244.4 442.2L242.5 443.1L239.7 445.9L240.6 449.7L240.4 451.4L238.8 450.1L237.8 447.3L235.0 446.6L231.3 447.6L227.6 447.3L224.8 449.2L224.6 450.6L222.4 449.2L221.0 447.1L219.2 447.8L217.8 447.3L215.9 445.2L211.7 445.7L208.2 444.5L205.9 444.5L204.7 443.1L202.7 442.6L201.4 440.3L199.5 437.5L199.3 434.7L199.5 431.5L199.1 429.6Z" fill="#000000" fill-opacity="0.025"/>
<circle cx="257.0" cy="432.8" r="6.5" fill="#74f800"/>
<circle cx="249.4" cy="438.1" r="6.5" fill="#91ea00"/>
<circle cx="232.7" cy="446.0" r="6.5" fill="#6afb00"/>
<circle cx="239.3" cy="449.3" r="6.5" fill="#bdca00"/>
<circle cx="238.9" cy="467.3" r="6.5" fill="#c8bf00"/>
<circle cx="242.6" cy="478.2" r="6.5" fill="#6afb00"/>
<circle cx="258.6" cy="485.4" r="6.5" fill="#c7c100"/>
<circle cx="280.3" cy="479.5" r="6.5" fill="#c7c100"/>
<circle cx="269.3" cy="499.8" r="6.5" fill="#c7c100"/>
<circle cx="249.6" cy="505.1" r="6.5" fill="#9de300"/>
<circle cx="249.6" cy="511.5" r="6.5" fill="#91ea00"/>
<circle cx="249.6" cy="517.5" r="6.5" fill="#7cf400"/>
<circle cx="310.8" cy="423.9" r="6.5" fill="#60ff00"/>
<circle cx="321.6" cy="419.2" r="6.5" fill="#54ff00"/>
<circle cx="330.0" cy="425.6" r="6.5" fill="#60ff00"/>
<circle cx="327.7" cy="422.1" r="6.5" fill="#c8bf00"/>
<circle cx="317.5" cy="438.7" r="6.5" fill="#7cf400"/>
<circle cx="316.9" cy="439.7" r="6.5" fill="#7cf400"/>
<circle cx="336.5" cy="439.6" r="6.5" fill="#74f800"/>
<circle cx="323.6" cy="468.8" r="6.5" fill="#c5c300"/>
<circle cx="352.2" cy="483.4" r="6.5" fill="#d3b400"/>
<circle cx="391.4" cy="462.7" r="6.5" fill="#91ea00"/>
<circle cx="391.1" cy="460.6" r="6.5" fill="#dca800"/>
<circle cx="390.8" cy="458.6" r="6.5" fill="#fd6300"/>
<circle cx="400.1" cy="453.1" r="6.5" fill="#dca800"/>
<circle cx="405.1" cy="459.8" r="6.5" fill="#ff5500"/>
<circle cx="431.0" cy="440.4" r="6.5" fill="#b9ce00"/>
<circle cx="432.2" cy="461.4" r="6.5" fill="#d3b400"/>
<circle cx="434.6" cy="469.5" r="6.5" fill="#d3b400"/>
<circle cx="429.9" cy="467.2" r="6.5" fill="#d3b400"/>
<circle cx="424.0" cy="445.0" r="6.5" fill="#91ea00"/>
<circle cx="428.3" cy="445.8" r="6.5" fill="#91ea00"/>
<circle cx="429.6" cy="451.1" r="6.5" fill="#91ea00"/>
<circle cx="421.7" cy="449.7" r="6.5" fill="#91ea00"/>
<circle cx="426.4" cy="450.9" r="6.5" fill="#91ea00"/>
<circle cx="418.2" cy="457.9" r="6.5" fill="#91ea00"/>
<circle cx="414.7" cy="464.9" r="6.5" fill="#91ea00"/>
<circle cx="419.4" cy="466.0" r="6.5" fill="#91ea00"/>
<circle cx="417.3" cy="483.5" r="6.5" fill="#dca800"/>
<circle cx="421.5" cy="483.5" r="6.5" fill="#dca800"/>
</g>
<line x1="132.3" y1="390.3" x2="132.3" y2="563.3000000000001" stroke="#3a3a3a" stroke-width="2.1"/>
<line x1="131.3" y1="391.3" x2="501.3" y2="391.3" stroke="#3a3a3a" stroke-width="2.1"/>
<line x1="499.7" y1="390.3" x2="499.7" y2="563.35" stroke="#141414" stroke-width="3.3"/>
<line x1="131.3" y1="561.7" x2="501.34999999999997" y2="561.7" stroke="#141414" stroke-width="3.3"/>
<line x1="147.2" y1="561.7" x2="147.2" y2="572.4000000000001" stroke="#111111" stroke-width="3.2"/>
<line x1="315.5" y1="561.7" x2="315.5" y2="572.4000000000001" stroke="#111111" stroke-width="3.2"/>
<line x1="483.6" y1="561.7" x2="483.6" y2="572.4000000000001" stroke="#111111" stroke-width="3.2"/>
<line x1="120.70000000000002" y1="428.2" x2="132.3" y2="428.2" stroke="#111111" stroke-width="3.2"/>
<line x1="120.70000000000002" y1="475.0" x2="132.3" y2="475.0" stroke="#111111" stroke-width="3.2"/>
<line x1="120.70000000000002" y1="521.6" x2="132.3" y2="521.6" stroke="#111111" stroke-width="3.2"/>
</g>
<g id="panel3">
<clipPath id="clip2"><rect x="132.3" y="728.9" width="367.4" height="172.1"/></clipPath>
<g clip-path="url(#clip2)">
<line x1="147.2" y1="732.2" x2="147.2" y2="896.6" stroke="#ededed" stroke-width="3.0"/>
<line x1="315.5" y1="732.2" x2="315.5" y2="896.6" stroke="#ededed" stroke-width="3.0"/>
<line x1="483.6" y1="732.2" x2="483.6" y2="896.6" stroke="#ededed" stroke-width="3.0"/>
<line x1="135.1" y1="767.5" x2="495.3" y2="767.5" stroke="#ededed" stroke-width="3.0"/>
<line x1="135.1" y1="812.7" x2="495.3" y2="812.7" stroke="#ededed" stroke-width="3.0"/>
<line x1="135.1" y1="859.6" x2="495.3" y2="859.6" stroke="#ededed" stroke-width="3.0"/>
<path d="M158.4 752.8L164.0 749.1L169.6 748.2L183.6 749.1L195.8 749.1L207.9 750.5L214.5 750.9L223.8 750.5L226.6 747.7L231.3 750.5L236.0 749.5L239.7 751.4L238.8 754.6L234.1 754.6L228.5 757.4L227.1 759.4L229.4 761.1L236.0 762.6L238.8 765.2L241.1 766.1L241.6 763.4L243.4 761.1L242.5 756.4L247.2 756.4L250.0 759.2L254.7 758.3L257.5 762.0L263.1 765.7L259.3 767.5L253.7 767.5L254.7 769.3L258.4 771.2L255.1 772.6L253.7 772.6L250.0 773.5L250.0 775.3L246.3 776.2L244.4 779.0L244.4 781.3L242.5 782.2L239.7 785.0L240.6 788.7L240.4 790.3L238.8 789.1L237.8 786.4L235.0 785.6L231.3 786.7L227.6 786.4L224.8 788.2L224.0 792.8L225.7 796.1L227.6 796.8L230.4 796.2L231.0 794.2L234.1 793.9L233.2 797.0L232.7 798.8L236.9 799.0L237.7 801.6L237.3 803.6L239.2 805.3L241.1 804.8L243.1 805.6L242.5 806.8L240.6 806.8L237.8 806.0L235.5 804.3L233.6 801.6L230.4 800.7L227.6 798.8L224.8 799.0L220.1 797.0L216.8 795.1L216.8 792.8L214.5 790.5L212.6 788.7L210.3 786.4L208.2 784.4L210.3 788.2L212.6 791.2L213.0 792.4L210.7 790.9L208.6 788.2L207.0 785.9L205.9 783.6L204.7 782.2L202.7 781.7L201.4 779.5L199.5 776.7L199.3 773.9L199.5 770.7L199.1 769.1L200.5 768.4L196.7 766.6L193.9 763.4L190.7 760.6L187.4 759.2L184.1 758.3L179.0 757.4L175.2 758.3L172.9 759.4L168.7 761.1L164.0 762.9L161.7 763.3L165.9 759.9L168.4 759.3L164.0 758.3L161.2 757.4L160.7 755.5L165.0 754.6L162.2 753.7L158.4 752.8Z" fill="#000000" fill-opacity="0.05" fill-rule="evenodd"/>
<path d="M257.9 752.3L254.7 756.0L251.9 755.5L248.1 754.6L243.0 753.7L246.7 751.4L240.6 749.1L232.7 748.2L232.2 745.9L239.7 745.4L244.4 746.3L251.9 748.6L257.9 752.3ZM217.3 750.0L209.8 749.7L206.1 748.2L205.1 746.3L212.6 746.3L218.2 747.2L220.1 749.1L217.3 750.0ZM198.6 747.2L200.5 745.1L206.1 743.6L207.9 744.5L204.2 745.9L202.3 747.7L198.6 747.2ZM231.3 743.6L240.6 743.4L245.3 741.3L257.5 738.0L250.0 736.9L231.3 738.0L226.6 739.9L234.1 741.7L231.3 743.6ZM225.7 744.5L240.6 744.8L239.7 743.6L229.4 742.8L225.7 744.5ZM260.3 769.6L263.1 766.1L265.9 768.9L265.9 770.5L263.1 770.4L260.3 769.6Z" fill="#000000" fill-opacity="0.04" fill-rule="evenodd"/>
<path d="M236.0 793.3L240.6 792.4L245.8 794.9L243.0 795.2L236.9 793.6L236.0 793.3ZM245.9 796.5L247.2 795.2L251.4 796.4L248.6 797.2L245.9 796.5ZM273.3 758.3L267.7 755.5L265.4 751.8L264.9 749.5L261.2 744.5L251.9 743.1L247.2 741.3L257.5 738.5L273.3 737.1L292.0 737.1L299.5 739.9L296.7 744.5L294.8 748.6L289.2 750.9L282.7 752.8L278.0 754.1L275.7 757.4L273.3 758.3ZM293.0 753.2L294.8 754.6L297.6 755.1L302.3 754.1L302.3 752.8L298.6 752.5L294.8 752.5L293.0 753.2ZM309.8 780.6L314.5 781.0L319.1 779.5L324.7 779.2L325.7 782.4L329.4 783.8L333.2 785.5L334.1 783.6L338.8 784.1L343.4 784.5L345.8 784.8L347.6 784.8L345.9 786.1L348.1 791.4L350.0 794.2L350.9 797.0L352.8 799.7L355.6 802.5L356.5 803.4L363.1 802.5L363.1 803.9L359.3 809.9L354.6 814.5L352.8 817.2L351.8 820.0L352.8 823.7L353.2 827.4L349.0 831.0L348.1 835.7L346.2 837.5L345.3 840.3L341.6 843.9L338.8 844.9L334.1 845.6L332.2 844.9L332.2 842.1L329.4 838.4L326.6 830.1L328.5 824.6L326.6 819.1L323.8 814.5L324.3 810.8L322.9 809.4L320.1 808.0L316.3 808.0L312.6 808.9L307.9 809.4L305.1 807.1L303.3 805.3L301.4 803.4L299.5 800.2L300.4 796.1L299.5 794.2L302.3 789.6L306.1 786.8L306.1 785.0L308.9 782.2L309.8 780.6ZM361.2 824.6L362.1 828.3L359.3 836.6L356.5 836.6L355.6 833.8L356.5 829.2L359.3 827.4L361.2 824.6ZM307.0 779.5L309.8 779.9L313.5 779.5L315.4 777.6L315.4 776.2L318.2 774.9L319.1 773.5L321.9 773.5L323.8 772.6L325.7 774.4L327.5 775.8L330.4 777.6L330.4 778.6L331.3 776.7L332.7 776.7L330.4 775.3L327.5 773.5L327.1 772.1L328.0 771.5L329.4 772.1L331.3 773.9L333.6 775.3L335.0 777.6L336.0 779.5L336.9 778.6L337.8 776.2L339.7 776.2L340.6 779.5L341.6 779.9L344.4 779.9L346.2 780.4L349.0 779.9L349.0 782.2L348.1 784.1L347.6 784.8L347.9 786.4L348.1 787.8L350.4 791.4L351.8 794.2L353.7 797.9L355.6 801.6L357.4 802.0L361.2 800.7L364.0 798.8L366.8 797.9L369.6 795.1L371.0 792.8L368.7 791.4L367.7 789.6L365.9 791.4L363.5 791.4L363.1 789.6L362.1 788.7L360.3 785.9L362.1 785.9L363.1 787.8L365.9 789.1L368.7 788.7L369.6 790.1L372.4 790.5L377.1 790.5L378.9 791.9L380.8 794.2L383.1 794.2L383.6 797.9L385.0 801.6L386.4 805.3L387.8 806.2L389.2 804.3L390.2 801.6L390.2 799.3L392.0 797.9L394.8 795.1L396.7 793.7L398.6 793.3L400.4 792.8L401.4 795.1L403.2 798.8L404.2 798.8L406.0 797.9L407.0 801.6L407.4 805.3L408.8 807.6L409.8 810.8L412.1 812.2L412.6 811.2L411.6 808.5L409.8 807.6L408.8 805.3L408.8 801.6L410.7 802.5L413.5 805.3L415.4 803.9L417.3 802.5L417.3 799.7L415.4 797.9L414.5 796.1L416.3 793.7L418.2 794.2L418.2 794.9L421.9 792.8L424.7 791.9L426.6 790.1L428.5 787.8L429.4 785.5L428.5 784.1L426.6 781.3L428.5 779.9L429.9 779.5L426.6 779.0L425.7 777.6L428.9 776.2L429.4 777.6L432.2 776.7L432.2 779.0L433.6 781.8L435.9 780.9L435.9 779.5L434.5 777.2L436.9 774.4L439.7 773.9L442.5 772.1L446.2 768.9L447.2 765.7L444.4 763.8L441.5 763.4L443.4 762.0L449.0 759.2L454.6 758.8L460.2 759.2L462.1 756.9L464.9 757.4L467.7 756.0L464.9 758.3L461.2 761.1L460.7 765.7L461.8 766.6L464.9 764.7L466.8 762.0L467.7 760.1L470.5 758.3L474.3 758.3L477.1 756.9L482.7 756.0L483.6 753.7L483.6 750.0L474.3 749.1L464.9 749.5L455.6 747.7L446.2 746.8L436.9 748.2L435.0 746.3L421.0 745.4L413.5 742.2L408.8 743.6L397.6 744.0L390.2 746.3L382.7 746.3L383.6 750.0L378.9 750.0L378.0 748.2L371.5 749.1L371.5 750.5L365.9 750.9L360.3 751.8L356.5 752.3L356.5 750.9L352.8 751.4L353.7 752.8L350.9 754.6L347.6 753.7L346.2 752.3L352.8 752.6L353.7 751.6L346.2 749.5L344.4 749.1L338.8 748.2L333.2 749.5L328.5 751.8L325.7 754.6L320.1 756.4L320.1 759.2L322.9 760.1L325.7 759.2L327.1 762.0L328.5 762.4L330.4 761.5L332.7 758.3L331.3 757.4L332.2 755.5L335.0 753.7L338.8 753.2L338.8 755.5L335.5 756.4L335.5 757.8L338.8 758.3L343.4 758.3L341.6 758.8L336.9 759.2L337.8 761.1L335.0 761.1L335.0 762.9L333.2 763.4L328.5 763.8L325.7 763.8L324.3 762.9L325.2 760.6L322.9 761.1L322.9 762.9L323.3 763.8L321.0 764.3L319.1 765.7L317.3 766.6L314.0 768.0L314.0 768.7L311.2 768.9L313.5 770.3L314.5 771.2L314.0 773.5L311.7 773.5L307.0 773.5L307.0 779.5ZM310.7 767.5L316.8 766.4L316.8 764.9L315.4 764.3L313.5 762.0L313.5 760.4L311.7 759.7L309.8 760.1L310.7 762.0L312.6 763.8L311.2 764.5L311.7 765.7L310.7 765.9L310.7 767.5ZM309.8 765.7L309.8 763.4L307.9 762.6L306.1 763.8L306.1 765.7L309.8 765.7ZM325.7 740.8L330.4 739.9L340.6 739.9L336.0 742.2L330.4 743.0L325.7 740.8ZM364.0 748.2L367.7 745.9L371.5 743.6L378.9 742.6L371.5 745.4L368.7 748.6L364.0 748.2ZM436.9 785.0L437.8 782.2L439.7 780.9L442.5 780.4L443.4 779.5L445.3 778.6L446.2 776.2L447.6 775.8L448.1 777.2L447.2 779.5L446.7 781.3L443.4 781.8L441.5 782.7L438.7 783.2L438.3 785.0L436.9 785.0ZM446.2 774.9L447.6 771.6L450.9 773.0L451.4 773.9L449.0 774.9L446.2 774.9ZM448.1 771.2L448.1 767.5L448.6 763.8L449.5 765.7L449.8 768.4L448.1 771.2ZM427.5 792.8L428.9 790.5L429.4 791.4L428.5 793.3L427.5 792.8ZM427.5 800.7L428.0 796.5L429.9 797.0L429.4 798.8L431.3 801.6L429.4 801.1L427.5 800.7ZM429.4 807.1L432.2 804.8L433.6 807.1L432.7 808.0L429.4 807.1ZM417.3 812.2L419.6 811.2L421.0 810.8L422.9 808.9L424.7 807.1L426.6 808.9L425.7 812.6L424.3 817.2L421.9 816.8L419.1 816.3L418.2 814.5L417.3 812.2ZM404.6 808.5L407.0 809.9L409.3 811.7L412.1 814.5L414.5 816.3L414.5 819.1L412.6 818.6L409.8 816.3L407.4 813.5L404.6 808.5ZM414.0 819.5L416.8 819.5L419.1 819.5L422.4 820.5L422.4 821.6L416.3 820.7L414.0 819.5ZM427.1 818.6L426.6 816.3L427.5 813.1L431.3 812.4L432.2 812.2L430.3 813.3L428.5 814.5L430.3 814.5L429.4 816.3L430.3 818.2L428.5 817.2L428.0 818.6L427.1 818.6ZM437.8 814.5L440.6 814.3L441.5 816.6L444.4 815.1L447.2 815.9L450.9 817.5L452.8 819.1L453.7 820.9L456.0 823.2L452.8 822.8L450.0 820.6L447.2 821.8L444.4 821.2L444.4 818.6L439.7 817.2L438.7 816.1L437.8 814.5ZM390.2 804.5L392.0 807.1L391.1 808.0L390.2 808.0L389.9 806.2L390.2 804.5ZM421.9 833.8L421.9 837.5L422.9 841.2L422.9 844.9L425.7 845.8L430.8 844.9L433.1 843.3L437.8 842.6L440.6 843.9L442.5 845.8L444.4 843.9L444.4 846.2L446.2 848.5L450.0 849.0L452.8 848.5L455.6 848.1L456.5 844.9L458.4 842.1L458.8 838.4L456.5 835.7L454.6 832.9L451.8 831.0L451.4 827.4L449.5 826.4L448.6 823.7L447.6 825.5L447.2 829.2L445.8 829.7L442.5 827.8L442.5 824.6L438.7 824.0L436.9 825.5L435.9 827.4L433.1 826.4L431.3 828.7L429.4 830.1L426.6 832.0L423.8 832.9L421.9 833.8ZM450.4 851.1L453.7 851.1L453.7 853.2L451.8 853.7L450.9 852.7L450.4 851.1ZM476.8 845.3L479.4 847.6L482.2 848.3L480.8 849.9L478.9 851.8L478.7 849.9L477.8 849.7L478.6 847.6L476.8 845.3ZM476.8 850.9L478.3 852.0L476.8 853.6L474.7 855.9L472.9 856.6L471.0 855.9L472.4 854.4L474.7 853.0L476.8 850.9ZM158.4 891.4L161.2 886.3L167.8 885.4L175.2 884.5L189.2 882.6L203.3 882.2L222.0 881.2L236.0 881.7L245.3 880.3L251.9 877.1L256.5 874.3L261.2 873.0L259.3 876.2L257.5 878.9L259.3 882.6L257.5 884.5L268.7 885.8L282.7 885.8L292.0 883.5L301.4 881.2L315.4 879.4L329.4 878.9L343.4 878.5L352.8 878.0L362.1 876.6L368.7 876.6L380.8 877.6L388.3 878.0L399.5 876.2L408.8 875.7L418.2 875.7L427.5 876.2L441.5 875.7L450.9 876.6L464.9 878.9L472.4 880.8L469.6 885.4L476.1 886.3L476.1 891.4L464.9 891.8L165.9 891.8ZM341.6 775.3L342.0 773.0L343.9 771.2L346.2 771.2L348.1 772.1L350.0 772.1L351.8 770.3L350.9 772.6L354.2 774.9L353.7 775.8L349.0 775.3L345.3 774.9L341.6 775.3ZM359.3 772.1L363.1 770.3L364.9 772.1L363.1 773.9L364.9 775.8L365.9 779.5L363.1 779.7L361.2 778.6L361.7 775.8L359.8 773.9L359.3 772.1Z" fill="#000000" fill-opacity="0.058" fill-rule="evenodd"/>
<path d="M243.1 805.6L245.3 803.4L248.1 802.3L250.0 803.0L251.9 803.6L255.6 803.9L258.4 804.3L262.1 808.0L266.8 808.9L268.7 812.6L268.7 813.5L274.3 815.9L279.0 816.8L282.7 818.6L282.7 821.8L279.9 825.5L279.0 830.1L277.1 833.8L273.3 835.7L270.5 837.5L269.6 840.3L265.9 844.9L262.1 845.8L262.1 848.5L257.5 849.5L254.7 851.3L254.7 855.0L252.8 855.9L253.7 857.8L250.9 860.5L251.9 862.4L254.2 864.2L250.0 864.7L246.3 861.4L245.3 857.8L246.3 853.2L247.2 848.5L249.1 843.0L250.0 836.6L250.0 830.1L245.3 827.4L243.4 824.6L240.6 820.0L239.7 818.2L240.6 815.4L240.6 812.6L242.5 810.8L243.4 808.0L242.5 806.8L243.1 805.6Z" fill="#000000" fill-opacity="0.03" fill-rule="evenodd"/>
<path d="M199.1 768.9L226.6 768.4L232.2 769.3L236.4 770.7L238.3 771.8L238.3 774.9L241.6 773.9L243.9 773.0L245.3 772.1L248.6 772.1L250.0 770.3L252.0 770.3L252.8 772.1L250.0 773.5L250.0 775.3L246.3 776.2L244.4 779.0L244.4 781.3L242.5 782.2L239.7 785.0L240.6 788.7L240.4 790.3L238.8 789.1L237.8 786.4L235.0 785.6L231.3 786.7L227.6 786.4L224.8 788.2L224.6 789.6L222.4 788.2L221.0 786.1L219.2 786.8L217.8 786.3L215.9 784.3L211.7 784.7L208.2 783.6L205.9 783.6L204.7 782.2L202.7 781.7L201.4 779.5L199.5 776.7L199.3 773.9L199.5 770.7L199.1 768.9Z" fill="#000000" fill-opacity="0.025"/>
<circle cx="257.0" cy="770.6" r="6.5" fill="#a2e000"/>
<circle cx="249.4" cy="775.9" r="6.5" fill="#97e700"/>
<circle cx="232.7" cy="782.9" r="6.5" fill="#83f100"/>
<circle cx="239.3" cy="787.1" r="6.5" fill="#83f100"/>
<circle cx="238.9" cy="805.1" r="6.5" fill="#c1c700"/>
<circle cx="242.6" cy="817.3" r="6.5" fill="#a2e000"/>
<circle cx="258.6" cy="824.8" r="6.5" fill="#8aee00"/>
<circle cx="280.3" cy="817.3" r="6.5" fill="#8aee00"/>
<circle cx="269.3" cy="837.6" r="6.5" fill="#6afb00"/>
<circle cx="249.6" cy="855.6" r="6.5" fill="#b9ce00"/>
<circle cx="249.6" cy="849.3" r="6.5" fill="#83f100"/>
<circle cx="249.6" cy="844.3" r="6.5" fill="#83f100"/>
<circle cx="310.8" cy="761.9" r="6.5" fill="#b1d500"/>
<circle cx="321.8" cy="757.4" r="6.5" fill="#83f100"/>
<circle cx="330.2" cy="764.1" r="6.5" fill="#6afb00"/>
<circle cx="327.7" cy="760.5" r="6.5" fill="#6afb00"/>
<circle cx="317.5" cy="777.1" r="6.5" fill="#45ff00"/>
<circle cx="316.9" cy="778.1" r="6.5" fill="#45ff00"/>
<circle cx="336.4" cy="778.1" r="6.5" fill="#97e700"/>
<circle cx="323.6" cy="806.6" r="6.5" fill="#b9ce00"/>
<circle cx="352.2" cy="821.2" r="6.5" fill="#91ea00"/>
<circle cx="391.4" cy="800.3" r="6.5" fill="#9de300"/>
<circle cx="390.8" cy="796.3" r="6.5" fill="#e19f00"/>
<circle cx="400.1" cy="790.7" r="6.5" fill="#cfb700"/>
<circle cx="405.1" cy="797.3" r="6.5" fill="#cfb700"/>
<circle cx="431.0" cy="778.2" r="6.5" fill="#6afb00"/>
<circle cx="417.5" cy="793.8" r="6.5" fill="#f08400"/>
<circle cx="420.6" cy="796.9" r="6.5" fill="#f08400"/>
<circle cx="416.2" cy="800.5" r="6.5" fill="#60ff00"/>
<circle cx="424.0" cy="782.8" r="6.5" fill="#b1d500"/>
<circle cx="428.3" cy="783.6" r="6.5" fill="#b1d500"/>
<circle cx="429.6" cy="788.9" r="6.5" fill="#b1d500"/>
<circle cx="421.7" cy="787.5" r="6.5" fill="#b1d500"/>
<circle cx="426.4" cy="788.7" r="6.5" fill="#b1d500"/>
<circle cx="418.6" cy="790.9" r="6.5" fill="#b1d500"/>
<circle cx="430.5" cy="794.3" r="6.5" fill="#acd900"/>
<circle cx="432.2" cy="799.2" r="6.5" fill="#a2e000"/>
<circle cx="434.6" cy="807.3" r="6.5" fill="#a2e000"/>
<circle cx="429.9" cy="805.0" r="6.5" fill="#a2e000"/>
<circle cx="413.2" cy="803.9" r="6.5" fill="#a2e000"/>
<circle cx="421.5" cy="805.5" r="6.5" fill="#a7dc00"/>
<circle cx="417.3" cy="821.3" r="6.5" fill="#d6b000"/>
<circle cx="421.5" cy="821.3" r="6.5" fill="#d6b000"/>
</g>
<line x1="132.3" y1="727.9" x2="132.3" y2="902.6" stroke="#3a3a3a" stroke-width="2.1"/>
<line x1="131.3" y1="728.9" x2="501.3" y2="728.9" stroke="#3a3a3a" stroke-width="2.1"/>
<line x1="499.7" y1="727.9" x2="499.7" y2="902.65" stroke="#141414" stroke-width="3.3"/>
<line x1="131.3" y1="901.0" x2="501.34999999999997" y2="901.0" stroke="#141414" stroke-width="3.3"/>
<line x1="147.2" y1="901.0" x2="147.2" y2="911.7" stroke="#111111" stroke-width="3.2"/>
<line x1="315.5" y1="901.0" x2="315.5" y2="911.7" stroke="#111111" stroke-width="3.2"/>
<line x1="483.6" y1="901.0" x2="483.6" y2="911.7" stroke="#111111" stroke-width="3.2"/>
<line x1="120.70000000000002" y1="767.5" x2="132.3" y2="767.5" stroke="#111111" stroke-width="3.2"/>
<line x1="120.70000000000002" y1="812.7" x2="132.3" y2="812.7" stroke="#111111" stroke-width="3.2"/>
<line x1="120.70000000000002" y1="859.6" x2="132.3" y2="859.6" stroke="#111111" stroke-width="3.2"/>
</g>
<text x="138.81" y="29.1" font-size="38.4" fill="#000" font-family="Liberation Sans, Arial, sans-serif" textLength="240.91" lengthAdjust="spacingAndGlyphs">Environmental</text>
<text x="131.33" y="361.7" font-size="38.4" fill="#000" font-family="Liberation Sans, Arial, sans-serif" textLength="164.56" lengthAdjust="spacingAndGlyphs">Economic</text>
<text x="131.05" y="700.1" font-size="38.4" fill="#000" font-family="Liberation Sans, Arial, sans-serif" textLength="183.92" lengthAdjust="spacingAndGlyphs">Community</text>
<text x="218.08" y="998.6" font-size="44.9" fill="#000" font-family="Liberation Sans, Arial, sans-serif" textLength="193.68" lengthAdjust="spacingAndGlyphs">Longitude</text>
<text transform="translate(34.3,551.11) rotate(-90)" font-size="44.9" fill="#000" font-family="Liberation Sans, Arial, sans-serif" textLength="152.21" lengthAdjust="spacingAndGlyphs">Latitude</text>
<text x="118.94" y="272.5" font-size="36.1" fill="#4d4d4d" font-family="Liberation Sans, Arial, sans-serif" textLength="70.13" lengthAdjust="spacingAndGlyphs">-180</text>
<text x="319.40" y="272.5" font-size="36.1" fill="#4d4d4d" font-family="Liberation Sans, Arial, sans-serif" textLength="19.89" lengthAdjust="spacingAndGlyphs">0</text>
<text x="454.06" y="272.5" font-size="36.1" fill="#4d4d4d" font-family="Liberation Sans, Arial, sans-serif" textLength="57.90" lengthAdjust="spacingAndGlyphs">180</text>
<text x="111.02" y="610.0" font-size="36.1" fill="#4d4d4d" font-family="Liberation Sans, Arial, sans-serif" textLength="71.27" lengthAdjust="spacingAndGlyphs">-180</text>
<text x="319.63" y="610.0" font-size="36.1" fill="#4d4d4d" font-family="Liberation Sans, Arial, sans-serif" textLength="19.55" lengthAdjust="spacingAndGlyphs">0</text>
<text x="460.10" y="610.0" font-size="36.1" fill="#4d4d4d" font-family="Liberation Sans, Arial, sans-serif" textLength="56.93" lengthAdjust="spacingAndGlyphs">180</text>
<text x="111.02" y="947.8" font-size="36.1" fill="#4d4d4d" font-family="Liberation Sans, Arial, sans-serif" textLength="71.27" lengthAdjust="spacingAndGlyphs">-180</text>
<text x="319.63" y="947.8" font-size="36.1" fill="#4d4d4d" font-family="Liberation Sans, Arial, sans-serif" textLength="19.55" lengthAdjust="spacingAndGlyphs">0</text>
<text x="460.10" y="947.8" font-size="36.1" fill="#4d4d4d" font-family="Liberation Sans, Arial, sans-serif" textLength="56.93" lengthAdjust="spacingAndGlyphs">180</text>
<text x="78.04" y="110.0" font-size="36.1" fill="#4d4d4d" font-family="Liberation Sans, Arial, sans-serif" textLength="40.48" lengthAdjust="spacingAndGlyphs">50</text>
<text x="98.49" y="154.9" font-size="36.1" fill="#4d4d4d" font-family="Liberation Sans, Arial, sans-serif" textLength="20.01" lengthAdjust="spacingAndGlyphs">0</text>
<text x="67.53" y="200.3" font-size="36.1" fill="#4d4d4d" font-family="Liberation Sans, Arial, sans-serif" textLength="50.94" lengthAdjust="spacingAndGlyphs">-50</text>
<text x="70.84" y="443.9" font-size="36.1" fill="#4d4d4d" font-family="Liberation Sans, Arial, sans-serif" textLength="40.48" lengthAdjust="spacingAndGlyphs">50</text>
<text x="91.29" y="490.7" font-size="36.1" fill="#4d4d4d" font-family="Liberation Sans, Arial, sans-serif" textLength="20.01" lengthAdjust="spacingAndGlyphs">0</text>
<text x="60.33" y="537.3" font-size="36.1" fill="#4d4d4d" font-family="Liberation Sans, Arial, sans-serif" textLength="50.94" lengthAdjust="spacingAndGlyphs">-50</text>
<text x="70.84" y="781.8" font-size="36.1" fill="#4d4d4d" font-family="Liberation Sans, Arial, sans-serif" textLength="40.48" lengthAdjust="spacingAndGlyphs">50</text>
<text x="91.29" y="828.5" font-size="36.1" fill="#4d4d4d" font-family="Liberation Sans, Arial, sans-serif" textLength="20.01" lengthAdjust="spacingAndGlyphs">0</text>
<text x="60.33" y="875.7" font-size="36.1" fill="#4d4d4d" font-family="Liberation Sans, Arial, sans-serif" textLength="50.94" lengthAdjust="spacingAndGlyphs">-50</text>
<linearGradient id="cb0" gradientUnits="userSpaceOnUse" x1="0" y1="69.5" x2="0" y2="276.8"><stop offset="0.000" stop-color="#00ff00"/><stop offset="0.040" stop-color="#45ff00"/><stop offset="0.080" stop-color="#60ff00"/><stop offset="0.120" stop-color="#74f800"/><stop offset="0.160" stop-color="#83f100"/><stop offset="0.200" stop-color="#91ea00"/><stop offset="0.240" stop-color="#9de300"/><stop offset="0.280" stop-color="#a7dc00"/><stop offset="0.320" stop-color="#b1d500"/><stop offset="0.360" stop-color="#b9ce00"/><stop offset="0.400" stop-color="#c1c700"/><stop offset="0.440" stop-color="#c8bf00"/><stop offset="0.480" stop-color="#cfb700"/><stop offset="0.520" stop-color="#d6b000"/><stop offset="0.560" stop-color="#dca800"/><stop offset="0.600" stop-color="#e19f00"/><stop offset="0.640" stop-color="#e79700"/><stop offset="0.680" stop-color="#ec8d00"/><stop offset="0.720" stop-color="#f08400"/><stop offset="0.760" stop-color="#f57a00"/><stop offset="0.800" stop-color="#f96f00"/><stop offset="0.840" stop-color="#fd6300"/><stop offset="0.880" stop-color="#ff5500"/><stop offset="0.920" stop-color="#ff4500"/><stop offset="0.960" stop-color="#ff3000"/><stop offset="1.000" stop-color="#ff0000"/></linearGradient>
<rect x="559.5" y="69.4" width="41.7" height="208.8" fill="url(#cb0)"/>
<text x="621.30" y="84.15" font-size="36.1" fill="#000" font-family="Liberation Sans, Arial, sans-serif" textLength="48.25" lengthAdjust="spacingAndGlyphs">4.5</text>
<rect x="559.0" y="110.0" width="7.4" height="2.2" fill="#fffff0" fill-opacity="0.92"/>
<rect x="592.4" y="110.0" width="9.3" height="2.2" fill="#fffff0" fill-opacity="0.92"/>
<text x="621.31" y="124.8" font-size="36.1" fill="#000" font-family="Liberation Sans, Arial, sans-serif" textLength="48.15" lengthAdjust="spacingAndGlyphs">4.0</text>
<rect x="559.0" y="152.0" width="7.4" height="2.2" fill="#fffff0" fill-opacity="0.92"/>
<rect x="592.4" y="152.0" width="9.3" height="2.2" fill="#fffff0" fill-opacity="0.92"/>
<text x="620.76" y="166.0" font-size="36.1" fill="#000" font-family="Liberation Sans, Arial, sans-serif" textLength="48.81" lengthAdjust="spacingAndGlyphs">3.5</text>
<rect x="559.0" y="192.7" width="7.4" height="2.2" fill="#fffff0" fill-opacity="0.92"/>
<rect x="592.4" y="192.7" width="9.3" height="2.2" fill="#fffff0" fill-opacity="0.92"/>
<text x="620.77" y="207.8" font-size="36.1" fill="#000" font-family="Liberation Sans, Arial, sans-serif" textLength="48.70" lengthAdjust="spacingAndGlyphs">3.0</text>
<rect x="559.0" y="234.2" width="7.4" height="2.2" fill="#fffff0" fill-opacity="0.92"/>
<rect x="592.4" y="234.2" width="9.3" height="2.2" fill="#fffff0" fill-opacity="0.92"/>
<text x="620.32" y="249.3" font-size="36.1" fill="#000" font-family="Liberation Sans, Arial, sans-serif" textLength="49.27" lengthAdjust="spacingAndGlyphs">2.5</text>
<rect x="559.0" y="275.2" width="7.4" height="4.0" fill="#fff"/>
<rect x="592.4" y="275.2" width="9.3" height="4.0" fill="#fff"/>
<text x="620.32" y="290.7" font-size="36.1" fill="#000" font-family="Liberation Sans, Arial, sans-serif" textLength="49.16" lengthAdjust="spacingAndGlyphs">2.0</text>
<linearGradient id="cb1" gradientUnits="userSpaceOnUse" x1="0" y1="405.3" x2="0" y2="610.3"><stop offset="0.000" stop-color="#00ff00"/><stop offset="0.040" stop-color="#45ff00"/><stop offset="0.080" stop-color="#60ff00"/><stop offset="0.120" stop-color="#74f800"/><stop offset="0.160" stop-color="#83f100"/><stop offset="0.200" stop-color="#91ea00"/><stop offset="0.240" stop-color="#9de300"/><stop offset="0.280" stop-color="#a7dc00"/><stop offset="0.320" stop-color="#b1d500"/><stop offset="0.360" stop-color="#b9ce00"/><stop offset="0.400" stop-color="#c1c700"/><stop offset="0.440" stop-color="#c8bf00"/><stop offset="0.480" stop-color="#cfb700"/><stop offset="0.520" stop-color="#d6b000"/><stop offset="0.560" stop-color="#dca800"/><stop offset="0.600" stop-color="#e19f00"/><stop offset="0.640" stop-color="#e79700"/><stop offset="0.680" stop-color="#ec8d00"/><stop offset="0.720" stop-color="#f08400"/><stop offset="0.760" stop-color="#f57a00"/><stop offset="0.800" stop-color="#f96f00"/><stop offset="0.840" stop-color="#fd6300"/><stop offset="0.880" stop-color="#ff5500"/><stop offset="0.920" stop-color="#ff4500"/><stop offset="0.960" stop-color="#ff3000"/><stop offset="1.000" stop-color="#ff0000"/></linearGradient>
<rect x="566.8" y="404.4" width="41.5" height="207.8" fill="url(#cb1)"/>
<rect x="566.3" y="403.4" width="7.4" height="2.0" fill="#fff"/>
<rect x="599.5" y="403.4" width="9.3" height="2.0" fill="#fff"/>
<text x="628.30" y="418.9" font-size="36.1" fill="#000" font-family="Liberation Sans, Arial, sans-serif" textLength="48.25" lengthAdjust="spacingAndGlyphs">4.5</text>
<rect x="566.3" y="445.8" width="7.4" height="2.2" fill="#fffff0" fill-opacity="0.92"/>
<rect x="599.5" y="445.8" width="9.3" height="2.2" fill="#fffff0" fill-opacity="0.92"/>
<text x="628.31" y="460.8" font-size="36.1" fill="#000" font-family="Liberation Sans, Arial, sans-serif" textLength="48.15" lengthAdjust="spacingAndGlyphs">4.0</text>
<rect x="566.3" y="487.7" width="7.4" height="2.2" fill="#fffff0" fill-opacity="0.92"/>
<rect x="599.5" y="487.7" width="9.3" height="2.2" fill="#fffff0" fill-opacity="0.92"/>
<text x="627.76" y="502.4" font-size="36.1" fill="#000" font-family="Liberation Sans, Arial, sans-serif" textLength="48.81" lengthAdjust="spacingAndGlyphs">3.5</text>
<rect x="566.3" y="529.1" width="7.4" height="2.2" fill="#fffff0" fill-opacity="0.92"/>
<rect x="599.5" y="529.1" width="9.3" height="2.2" fill="#fffff0" fill-opacity="0.92"/>
<text x="627.77" y="543.7" font-size="36.1" fill="#000" font-family="Liberation Sans, Arial, sans-serif" textLength="48.70" lengthAdjust="spacingAndGlyphs">3.0</text>
<rect x="566.3" y="568.2" width="7.4" height="2.2" fill="#fffff0" fill-opacity="0.92"/>
<rect x="599.5" y="568.2" width="9.3" height="2.2" fill="#fffff0" fill-opacity="0.92"/>
<text x="627.32" y="585.4" font-size="36.1" fill="#000" font-family="Liberation Sans, Arial, sans-serif" textLength="49.27" lengthAdjust="spacingAndGlyphs">2.5</text>
<rect x="566.3" y="609.8" width="7.4" height="3.4" fill="#fff"/>
<rect x="599.5" y="609.8" width="9.3" height="3.4" fill="#fff"/>
<text x="627.32" y="626.8" font-size="36.1" fill="#000" font-family="Liberation Sans, Arial, sans-serif" textLength="49.16" lengthAdjust="spacingAndGlyphs">2.0</text>
<linearGradient id="cb2" gradientUnits="userSpaceOnUse" x1="0" y1="743.7" x2="0" y2="950.3"><stop offset="0.000" stop-color="#00ff00"/><stop offset="0.040" stop-color="#45ff00"/><stop offset="0.080" stop-color="#60ff00"/><stop offset="0.120" stop-color="#74f800"/><stop offset="0.160" stop-color="#83f100"/><stop offset="0.200" stop-color="#91ea00"/><stop offset="0.240" stop-color="#9de300"/><stop offset="0.280" stop-color="#a7dc00"/><stop offset="0.320" stop-color="#b1d500"/><stop offset="0.360" stop-color="#b9ce00"/><stop offset="0.400" stop-color="#c1c700"/><stop offset="0.440" stop-color="#c8bf00"/><stop offset="0.480" stop-color="#cfb700"/><stop offset="0.520" stop-color="#d6b000"/><stop offset="0.560" stop-color="#dca800"/><stop offset="0.600" stop-color="#e19f00"/><stop offset="0.640" stop-color="#e79700"/><stop offset="0.680" stop-color="#ec8d00"/><stop offset="0.720" stop-color="#f08400"/><stop offset="0.760" stop-color="#f57a00"/><stop offset="0.800" stop-color="#f96f00"/><stop offset="0.840" stop-color="#fd6300"/><stop offset="0.880" stop-color="#ff5500"/><stop offset="0.920" stop-color="#ff4500"/><stop offset="0.960" stop-color="#ff3000"/><stop offset="1.000" stop-color="#ff0000"/></linearGradient>
<rect x="566.8" y="741.5" width="41.5" height="207.8" fill="url(#cb2)"/>
<rect x="566.3" y="740.5" width="7.4" height="3.4" fill="#fff"/>
<rect x="599.5" y="740.5" width="9.3" height="3.4" fill="#fff"/>
<text x="628.30" y="756.3" font-size="36.1" fill="#000" font-family="Liberation Sans, Arial, sans-serif" textLength="48.25" lengthAdjust="spacingAndGlyphs">4.5</text>
<rect x="566.3" y="783.8" width="7.4" height="2.2" fill="#fffff0" fill-opacity="0.92"/>
<rect x="599.5" y="783.8" width="9.3" height="2.2" fill="#fffff0" fill-opacity="0.92"/>
<text x="628.31" y="797.8" font-size="36.1" fill="#000" font-family="Liberation Sans, Arial, sans-serif" textLength="48.15" lengthAdjust="spacingAndGlyphs">4.0</text>
<rect x="566.3" y="825.1" width="7.4" height="2.2" fill="#fffff0" fill-opacity="0.92"/>
<rect x="599.5" y="825.1" width="9.3" height="2.2" fill="#fffff0" fill-opacity="0.92"/>
<text x="627.76" y="839.9" font-size="36.1" fill="#000" font-family="Liberation Sans, Arial, sans-serif" textLength="48.81" lengthAdjust="spacingAndGlyphs">3.5</text>
<rect x="566.3" y="866.9" width="7.4" height="2.2" fill="#fffff0" fill-opacity="0.92"/>
<rect x="599.5" y="866.9" width="9.3" height="2.2" fill="#fffff0" fill-opacity="0.92"/>
<text x="627.77" y="881.2" font-size="36.1" fill="#000" font-family="Liberation Sans, Arial, sans-serif" textLength="48.70" lengthAdjust="spacingAndGlyphs">3.0</text>
<rect x="566.3" y="907.9" width="7.4" height="2.2" fill="#fffff0" fill-opacity="0.92"/>
<rect x="599.5" y="907.9" width="9.3" height="2.2" fill="#fffff0" fill-opacity="0.92"/>
<text x="627.32" y="922.7" font-size="36.1" fill="#000" font-family="Liberation Sans, Arial, sans-serif" textLength="49.27" lengthAdjust="spacingAndGlyphs">2.5</text>
<text x="627.32" y="964.4" font-size="36.1" fill="#000" font-family="Liberation Sans, Arial, sans-serif" textLength="49.16" lengthAdjust="spacingAndGlyphs">2.0</text>
</svg>
</body></html>
